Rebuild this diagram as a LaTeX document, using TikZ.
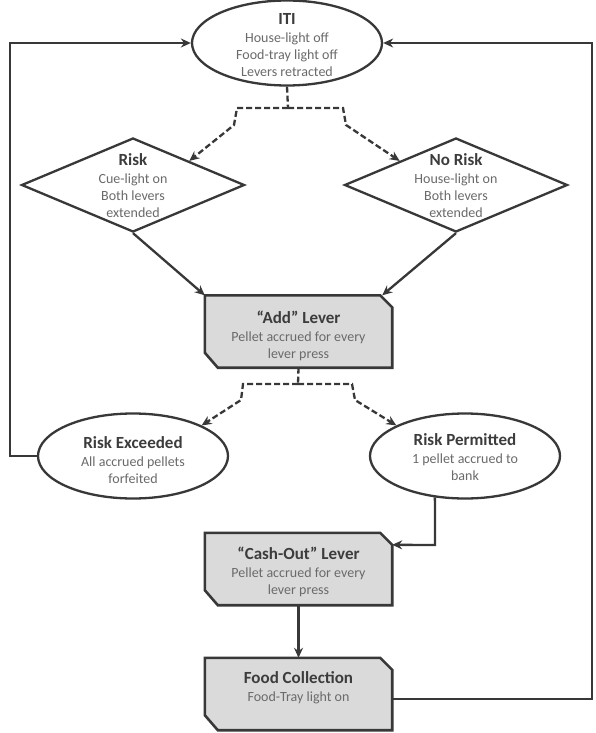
\documentclass[tikz,border=0pt]{standalone}
\usepackage{fontspec}
\setmainfont{Carlito}
\usetikzlibrary{shapes.geometric,arrows.meta,calc}
\definecolor{linec}{HTML}{383838}
\definecolor{boxfill}{HTML}{DADADA}
\definecolor{bodyc}{HTML}{6A6A6A}
\definecolor{titlec}{HTML}{3C3C3C}
\newcommand\ttl[1]{{\fontsize{17}{18}\selectfont\bfseries\color{titlec}#1}}
\newcommand\chamf[1]{%
  \draw[line width=2.6pt,draw=linec,fill=boxfill]
    (#1.north west) -- ($(#1.north east)+(-12,0)$) -- ($(#1.north east)+(0,12)$)
    -- (#1.south east) -- ($(#1.south west)+(13,0)$) -- ($(#1.south west)+(0,-15)$) -- cycle;}
\begin{document}
\begin{tikzpicture}[x=1pt,y=-1pt,
  every node/.style={inner sep=0pt},
  oval/.style={ellipse,draw=linec,line width=2.3pt,fill=white,minimum width=190pt,minimum height=85pt},
  dia/.style={diamond,draw=linec,line width=2.3pt,fill=white,minimum width=223pt,minimum height=94pt,aspect=2.37},
  boxn/.style={rectangle,minimum width=187pt,minimum height=72pt},
  txt/.style={align=center,text=bodyc,font=\fontsize{14}{17}\selectfont},
  flow/.style={draw=linec,line width=2.3pt,-{Stealth[length=10pt,width=9pt]}},
  dashln/.style={draw=linec,line width=2.3pt,dash pattern=on 6pt off 3pt},
  dasharr/.style={dashln,-{Stealth[length=10pt,width=9pt]}}]
\useasboundingbox (0,0) rectangle (595,733);
\fill[white] (0,0) rectangle (595,733);

% shapes
\node[oval] (iti) at (287,43) {};
\node[dia] (risk) at (133,185) {};
\node[dia] (nrisk) at (456,185) {};
\node[boxn] (add) at (298.5,331.5) {};
\chamf{add}
\node[oval] (rex) at (133,456) {};
\node[oval] (rper) at (465,456) {};
\node[boxn] (cash) at (298.5,569) {};
\chamf{cash}
\node[boxn] (food) at (298.5,694) {};
\chamf{food}

% texts
\node[txt] (itit) at (287,45) {\ttl{ITI}\\[1pt]House-light off\\Food-tray light off\\Levers retracted};
\node[txt] (riskt) at (133,186) {\ttl{Risk}\\[1pt]Cue-light on\\Both levers\\extended};
\node[txt] (nriskt) at (456,186) {\ttl{No Risk}\\[1pt]House-light on\\Both levers\\extended};
\node[txt] (addt) at (298.5,336) {\ttl{``Add'' Lever}\\[1pt]Pellet accrued for every\\lever press};
\node[txt] (rext) at (133,460) {\ttl{Risk Exceeded}\\[1pt]All accrued pellets\\forfeited};
\node[txt] (rpert) at (465,457) {\ttl{Risk Permitted}\\[1pt]1 pellet accrued to\\bank};
\node[txt] (casht) at (298.5,572) {\ttl{``Cash-Out'' Lever}\\[1pt]Pellet accrued for every\\lever press};
\node[txt] (foodt) at (298.5,688) {\ttl{Food Collection}\\[1pt]Food-Tray light on};

% helper coordinates
\coordinate (lc) at (10,43);
\coordinate (rc) at (592,43);
\coordinate (d1) at (288,108);
\coordinate (d1l) at (237,108);
\coordinate (d1r) at (343,108);
\coordinate (d2) at (298,384);
\coordinate (d2l) at (243,384);
\coordinate (d2r) at (352,384);
\coordinate (cr) at (435,545);

% dashed branches from ITI
\draw[dashln] (iti.south) -- (d1);
\draw[dasharr] (d1) -- (d1l) -- ++(-3,17) -- (risk.north east);
\draw[dasharr] (d1) -- (d1r) -- ++(3,17) -- (nrisk.north west);

% diamonds to Add lever
\draw[flow] (risk.south) -- (add.north west);
\draw[flow] (nrisk.south) -- ($(add.north east)+(-10,0)$);

% dashed branches from Add lever
\draw[dashln] (add.south) -- (d2);
\draw[dasharr] (d2) -- (d2l) -- ++(-2,16) -- (rex.24);
\draw[dasharr] (d2) -- (d2r) -- ++(3,16) -- (rper.156);

% risk permitted to cash-out
\draw[flow] (rper.234) -- (cr) -- ($(cash.north east)+(0,12)$);
\draw[flow] (cash.south) -- (food.north);

% feedback loops
\draw[flow] ($(food.east)+(0,5)$) -| (rc) -- (iti.east);
\draw[flow] (rex.west) -| (lc) -- (iti.west);
\end{tikzpicture}
\end{document}
